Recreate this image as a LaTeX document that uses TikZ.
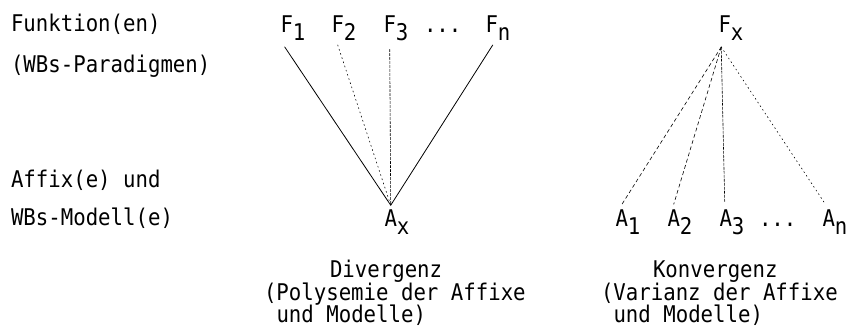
\documentclass[tikz,border=0pt]{standalone}
\usepackage{fontspec}
\setmonofont[FakeStretch=0.9]{DejaVu Sans Mono}
% index set on the next character cell, dropped below the baseline
\newcommand\lowidx[1]{\rlap{\raisebox{-8pt}{#1}}}
\begin{document}
\begin{tikzpicture}[x=1pt,y=-1pt,
  txt/.style={anchor=base west,inner sep=0pt,outer sep=0pt,
    font=\ttfamily\fontsize{23}{22.5}\selectfont},
  link/.style={line width=0.8pt,line cap=round},
  fullline/.style={link},
  dotline/.style={link,line width=0.6pt,dash pattern=on 1.2pt off 3.2pt},
  denseline/.style={link,line width=0.6pt,dash pattern=on 2.5pt off 1.5pt},
  dashline/.style={link,line width=0.6pt,dash pattern=on 3.5pt off 3pt},
]
\useasboundingbox (0,0) rectangle (852,332);

% row captions on the left
\node[txt] (capF1) at (11,31)  {Funktion(en)};
\node[txt] (capF2) at (11,72)  {(WBs-Paradigmen)};
\node[txt] (capA1) at (11,187) {Affix(e) und};
\node[txt] (capA2) at (11,225) {WBs-Modell(e)};

% divergence: several functions, one affix
\node[txt] (F1) at (280.5,32) {F\lowidx{1}};
\node[txt] (F2) at (331.5,32) {F\lowidx{2}};
\node[txt] (F3) at (383.5,32) {F\lowidx{3}};
\node[txt] (Fdots) at (424,32) {...};
\node[txt] (Fn) at (485.5,32) {F\lowidx{n}};
\node[txt] (Ax) at (384.5,226) {A\lowidx{x}};

\draw[fullline]  ([xshift=-2pt,yshift=-7pt]F1.south) -- ([yshift=4pt]Ax.north);
\draw[dotline]   ([yshift=-5pt]F2.south) -- ([yshift=4pt]Ax.north);
\draw[denseline] ([yshift=-9pt]F3.south) -- ([yshift=4pt]Ax.north);
\draw[fullline]  ([xshift=1pt,yshift=-5pt]Fn.south) -- ([yshift=4pt]Ax.north);

\node[txt] (div1) at (330,277) {Divergenz};
\node[txt] (div2) at (264,300) {(Polysemie der Affixe};
\node[txt] (div3) at (276.5,322) {und Modelle)};

% convergence: one function, several affixes
\node[txt] (Fx) at (718.5,32) {F\lowidx{x}};
\node[txt] (A1) at (615.5,226) {A\lowidx{1}};
\node[txt] (A2) at (667.5,226) {A\lowidx{2}};
\node[txt] (A3) at (719.5,226) {A\lowidx{3}};
\node[txt] (Adots) at (759,226) {...};
\node[txt] (An) at (822.5,226) {A\lowidx{n}};

\draw[dashline]  ([xshift=-3.5pt,yshift=-7pt]Fx.south) -- ([xshift=-1pt,yshift=3pt]A1.north);
\draw[dashline]  ([xshift=-3.5pt,yshift=-7pt]Fx.south) -- ([yshift=5pt]A2.north);
\draw[denseline] ([xshift=-3.5pt,yshift=-7pt]Fx.south) -- ([xshift=-1pt,yshift=7pt]A3.north);
\draw[dotline]   ([xshift=-3.5pt,yshift=-7pt]Fx.south) -- ([xshift=-4pt,yshift=6pt]An.north);

\node[txt] (kon1) at (653,277) {Konvergenz};
\node[txt] (kon2) at (601,300) {(Varianz der Affixe};
\node[txt] (kon3) at (613.5,322) {und Modelle)};
\end{tikzpicture}
\end{document}
